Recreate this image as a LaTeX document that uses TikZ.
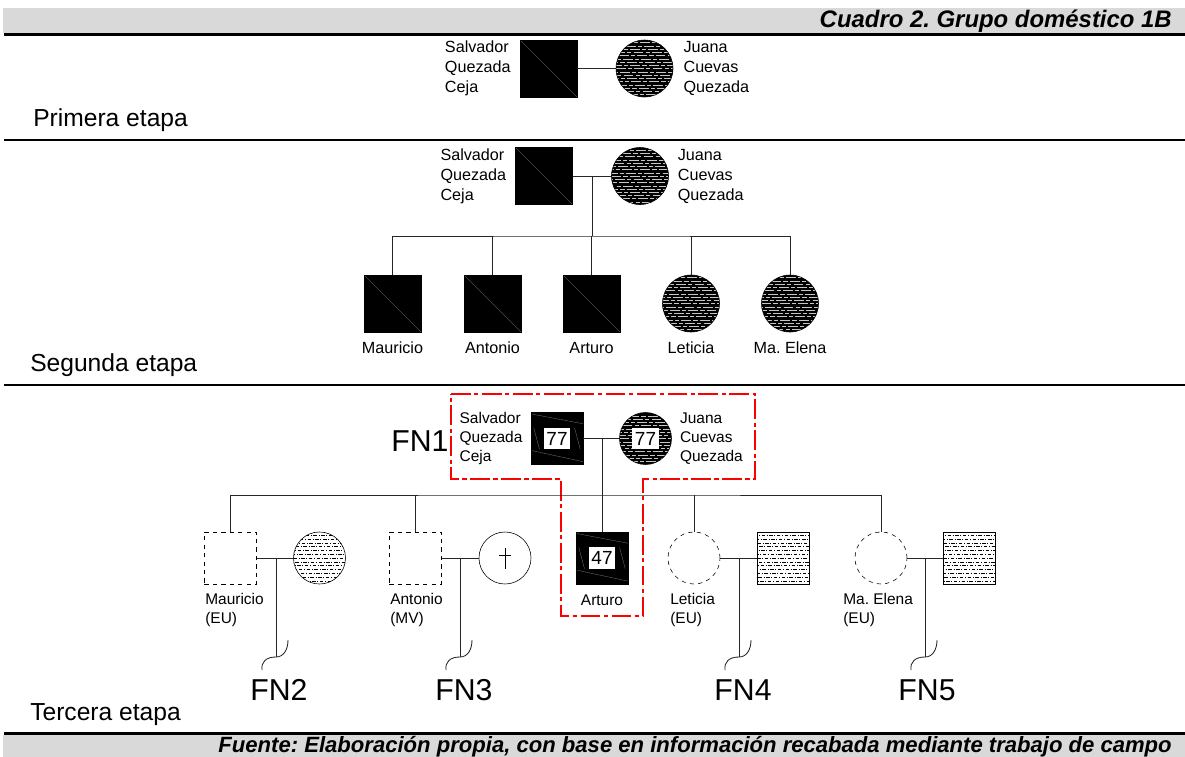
\documentclass[tikz,border=0pt]{standalone}
\usepackage{fontspec}
\setmainfont{Liberation Sans}
\usetikzlibrary{positioning}
\definecolor{bargray}{RGB}{217,217,217}
\definecolor{framered}{RGB}{255,0,0}
\frenchspacing

\tikzset{
  % person symbols
  male/.style={draw, rectangle, fill=black, minimum size=1.425cm, inner sep=0pt,
    path picture={\draw[gray, line width=0.2pt] (path picture bounding box.north west) -- (path picture bounding box.south east);}},
  female/.style={draw, circle, fill=black, minimum size=1.425cm, inner sep=0pt,
    path picture={\foreach \k in {-12,...,12} \draw[gray!45, line width=0.22pt, dash pattern=on 7pt off 1.5pt on 3pt off 1.5pt, dash phase=\k*2.7pt] ([yshift=\k*2.3pt]path picture bounding box.west) -- ([yshift=\k*2.3pt]path picture bounding box.east);}},
  agedmale/.style={draw, rectangle, fill=black, minimum size=1.3cm, inner sep=0pt,
    path picture={
      \draw[gray, line width=0.2pt] ([yshift=-1pt]path picture bounding box.north west) -- ([yshift=-8pt]path picture bounding box.north east);
      \draw[gray, line width=0.2pt] ([xshift=2pt,yshift=-11pt]path picture bounding box.north west) -- ([xshift=6pt,yshift=11pt]path picture bounding box.south west);
      \draw[gray, line width=0.2pt] ([xshift=-6pt,yshift=-11pt]path picture bounding box.north east) -- ([xshift=-2pt,yshift=11pt]path picture bounding box.south east);
      \draw[gray, line width=0.2pt] ([yshift=10pt]path picture bounding box.south west) -- ([yshift=2pt]path picture bounding box.south east);}},
  agedfemale/.style={female, minimum size=1.3cm},
  absentmale/.style={draw, rectangle, dashed, minimum size=1.3cm, inner sep=0pt},
  absentfemale/.style={draw, circle, dashed, minimum size=1.3cm, inner sep=0pt},
  inlaw/.style={draw, fill=white, minimum size=1.3cm, inner sep=0pt,
    path picture={\foreach \k in {-9,...,9} \draw[black, line width=0.25pt, dash pattern=on 2.5pt off 1.2pt on 0.6pt off 1.2pt, dash phase=\k*1.3pt] ([yshift=\k*2.7pt]path picture bounding box.west) -- ([yshift=\k*2.7pt]path picture bounding box.east);}},
  deceased/.style={draw, circle, fill=white, minimum size=1.3cm, inner sep=0pt,
    path picture={
      \draw[line width=0.3pt] ([yshift=7pt]path picture bounding box.center) -- ([yshift=-8pt]path picture bounding box.center);
      \draw[line width=0.3pt] ([xshift=-4.3pt,yshift=2pt]path picture bounding box.center) -- ([xshift=4.3pt,yshift=2pt]path picture bounding box.center);}},
  age/.style={fill=white, inner xsep=2pt, inner ysep=0pt, minimum height=15.5pt, font=\fontsize{13.5}{14}\selectfont},
  % texts
  names/.style={align=left, inner sep=0pt, font=\fontsize{11.5}{14.2}\selectfont},
  childname/.style={inner sep=0pt, text height=8.3pt, text depth=2.2pt, font=\fontsize{11.5}{14.2}\selectfont},
  smallnames/.style={align=left, inner sep=0pt, font=\fontsize{11}{13.5}\selectfont},
  stage/.style={anchor=west, inner sep=0pt, font=\fontsize{17.5}{20}\selectfont},
  fn/.style={inner sep=0pt, font=\fontsize{21.5}{24}\selectfont},
  header/.style={anchor=east, inner sep=0pt, font=\fontsize{#1}{18}\selectfont\bfseries\itshape},
  % lines
  link/.style={draw, black!85, line width=0.6pt},
  sepline/.style={line width=1.5pt},
  redframe/.style={framered, line width=0.75pt, dash pattern=on 14pt off 2.5pt on 3pt off 2.5pt}
}

\begin{document}
\begin{tikzpicture}[x=0.025cm, y=-0.025cm]
  \useasboundingbox (0,0) rectangle (1185,757);

  % Header and footer bars
  \fill[bargray] (3,8) rectangle (1185,33);
  \draw[line width=1.8pt] (4,34.5) -- (1185,34.5);
  \node[header=17] (title) at (1172,21) {Cuadro 2. Grupo doméstico 1B};
  \draw[line width=1.8pt] (4,733.5) -- (1185,733.5);
  \fill[bargray] (3,735) rectangle (1185,757);
  \node[header=15.7] (source) at (1172,747) {Fuente: Elaboración propia, con base en información recabada mediante trabajo de campo};

  % Separators
  \draw[sepline] (4,140) -- (1185,140);
  \draw[sepline] (4,385) -- (1185,385);

  % Primera etapa
  \node[male] (a1sal) at (548.5,68.5) {};
  \node[female] (a1jua) at (644.5,68.5) {};
  \node[names, left=0.22cm of a1sal] (a1saltxt) {Salvador\\Quezada\\Ceja};
  \node[names, right=0.25cm of a1jua] (a1juatxt) {Juana\\Cuevas\\Quezada};
  \draw[link] (a1sal) -- (a1jua);
  \node[stage] (etapa1) at (33,120) {Primera etapa};

  % Segunda etapa - parents
  \node[male] (b1sal) at (544,176) {};
  \node[female] (b1jua) at (640,176) {};
  \node[names, left=0.22cm of b1sal] (b1saltxt) {Salvador\\Quezada\\Ceja};
  \node[names, right=0.22cm of b1jua] (b1juatxt) {Juana\\Cuevas\\Quezada};
  \draw[link] (b1sal) -- (b1jua);
  \coordinate (b1mid) at (592,176);
  \coordinate (b1bar) at (592,236);
  \draw[link] (b1mid) -- (b1bar);

  % Segunda etapa - children
  \node[male] (b2mau) at (392.5,303.5) {};
  \node[male] (b2ant) at (492.5,303.5) {};
  \node[male] (b2art) at (591.5,303.5) {};
  \node[female] (b2let) at (691,303.5) {};
  \node[female] (b2mae) at (790,303.5) {};
  \draw[link] (b2mau.north) |- (b1bar) -| (b2mae.north);
  \draw[link] (b2ant.north) -- (b2ant.north |- b1bar);
  \draw[link] (b2art.north) -- (b2art.north |- b1bar);
  \draw[link] (b2let.north) -- (b2let.north |- b1bar);
  \node[childname, below=0.22cm of b2mau] (b2mautxt) {Mauricio};
  \node[childname, below=0.22cm of b2ant] (b2anttxt) {Antonio};
  \node[childname, below=0.22cm of b2art] (b2arttxt) {Arturo};
  \node[childname, below=0.22cm of b2let] (b2lettxt) {Leticia};
  \node[childname, below=0.22cm of b2mae] (b2maetxt) {Ma. Elena};
  \node[stage] (etapa2) at (30,365) {Segunda etapa};

  % Tercera etapa - parents
  \node[agedmale] (c1sal) at (557,438.5) {};
  \node[age] (c1salage) at (c1sal) {77};
  \node[agedfemale] (c1jua) at (645.5,438.5) {};
  \node[age] (c1juaage) at (c1jua) {77};
  \node[smallnames, left=0.2cm of c1sal] (c1saltxt) {Salvador\\Quezada\\Ceja};
  \node[smallnames, right=0.2cm of c1jua] (c1juatxt) {Juana\\Cuevas\\Quezada};
  \draw[link] (c1sal) -- (c1jua);
  \coordinate (c1mid) at (602,438.5);
  \draw[redframe] (451,394) -- (755,394) -- (755,479) -- (643,479) -- (643,616)
    -- (561,616) -- (561,479) -- (451,479) -- cycle;
  \node[fn] (fn1) at (420,441) {FN1};

  % Tercera etapa - children and spouses
  \node[absentmale] (c2mau) at (230.5,558) {};
  \node[inlaw, circle] (c2mauw) at (319.5,558) {};
  \node[absentmale] (c2ant) at (415.5,558) {};
  \node[deceased] (c2antw) at (505,558) {};
  \node[agedmale] (c2art) at (602,558) {};
  \node[age] (c2artage) at (c2art) {47};
  \node[absentfemale] (c2let) at (694,558) {};
  \node[inlaw, rectangle] (c2leth) at (783,558) {};
  \node[absentfemale] (c2mae) at (881,558) {};
  \node[inlaw, rectangle] (c2maeh) at (969,558) {};

  \coordinate (c2bar) at (602,495);
  \draw[link] (c1mid) -- (c2art);
  \draw[link] (c2mau.north) |- (c2bar) -| (c2mae.north);
  \draw[link] (c2ant.north) -- (c2ant.north |- c2bar);
  \draw[link] (c2let.north) -- (c2let.north |- c2bar);

  \draw[link] (c2mau) -- (c2mauw);
  \draw[link] (c2ant) -- (c2antw);
  \draw[link] (c2let) -- (c2leth);
  \draw[link] (c2mae) -- (c2maeh);

  % Descent lines to other family nuclei
  \coordinate (c3mau) at (276,558);
  \coordinate (c3ant) at (460,558);
  \coordinate (c3let) at (739,558);
  \coordinate (c3mae) at (925,558);
  \coordinate (c4mau) at (276,657);
  \coordinate (c4ant) at (460,657);
  \coordinate (c4let) at (739,657);
  \coordinate (c4mae) at (925,657);
  \foreach \p in {mau,ant,let,mae} {
    \draw[link] (c3\p) -- (c4\p);
    \draw[link] (c4\p) .. controls +(8,0) and +(0,9) .. +(12,-17);
    \draw[link] (c4\p) .. controls +(-10,0) and +(-1,-8) .. +(-14,13);
  }
  \node[fn] (fn2) at (279,690) {FN2};
  \node[fn] (fn3) at (464,690) {FN3};
  \node[fn] (fn4) at (743,690) {FN4};
  \node[fn] (fn5) at (927,690) {FN5};

  % Labels
  \node[smallnames, anchor=north west] (c2mautxt) at (205,593) {Mauricio\\(EU)};
  \node[smallnames, anchor=north west] (c2anttxt) at (390,593) {Antonio\\(MV)};
  \node[childname, below=0.22cm of c2art, font=\fontsize{11}{13.5}\selectfont] (c2arttxt) {Arturo};
  \node[smallnames, anchor=north west] (c2lettxt) at (670,593) {Leticia\\(EU)};
  \node[smallnames, anchor=north west] (c2maetxt) at (843,593) {Ma. Elena\\(EU)};
  \node[stage] (etapa3) at (30,715) {Tercera etapa};
\end{tikzpicture}
\end{document}
